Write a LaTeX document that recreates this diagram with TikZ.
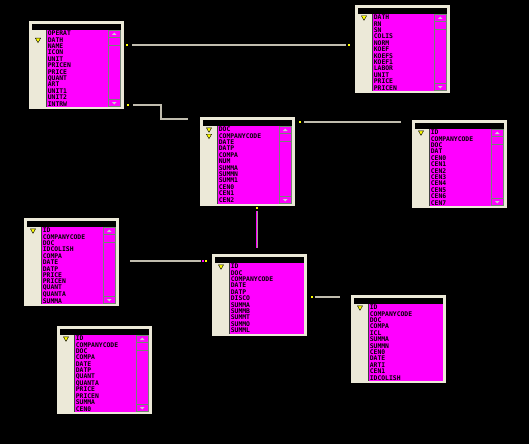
\documentclass[tikz,border=0pt]{standalone}
\usepackage{fontspec}
\newfontfamily\fieldfont{DejaVu Sans Mono}
\usepackage{tikz}
\usetikzlibrary{shapes.geometric}
\usetikzlibrary{positioning}

\definecolor{xpbeige}{RGB}{236,233,216}
\definecolor{relgray}{RGB}{192,188,174}
\definecolor{barline}{RGB}{118,132,118}
\definecolor{dbmagenta}{RGB}{255,0,255}
\definecolor{keyyellow}{RGB}{255,255,0}

% 表格: 名称, x, y, 高度, 主键行, 字段, 滚动条
\newcommand{\dbtable}[7]{%
  \begin{scope}[shift={(#2,#3)}]
    \node[tablebox,minimum height=#4pt] (#1) at (0,0) {};
    \fill[black] (3,3) rectangle (92,9);
    \fill[dbmagenta] (17,9) rectangle (92,#4-2);
    \draw[black!75,line width=0.7pt] (17,9) -- (17,#4-2);
    \ifnum#7=1
      \draw[scrollbar] (79,9.5) rectangle (91.5,#4-2.5);
      \draw[scrollbar] (79,16) -- (91.5,16) (79,24) -- (91.5,24) (79,#4-10) -- (91.5,#4-10);
      \fill[black!20] (83,14) -- (87.5,14) -- (85.25,11.5) -- cycle;
      \fill[black!20] (83,#4-7) -- (87.5,#4-7) -- (85.25,#4-4.5) -- cycle;
    \fi
    \foreach \k in {#5} \node[keyicon] (#1-key\k) at (9,{6.4*\k+5.9}) {};
    \foreach \f [count=\i] in {#6} \node[field] (#1-f\i) at (18.5,{6.4*\i+5.9}) {\f};
  \end{scope}}

\begin{document}
\begin{tikzpicture}[x=1pt,y=-1pt,semithick,
    tablebox/.style={rectangle,fill=xpbeige,anchor=north west,minimum width=95pt,inner sep=0pt,outer sep=0pt},
    field/.style={anchor=west,inner sep=0pt,text=black,font=\fieldfont\bfseries\fontsize{6.4}{6.4}\selectfont},
    keyicon/.style={regular polygon,regular polygon sides=3,shape border rotate=180,fill=keyyellow,draw=black,line width=0.4pt,minimum size=6pt,inner sep=0pt},
    scrollbar/.style={draw=barline,line width=0.8pt},
    fkmark/.style={rectangle,fill=keyyellow,minimum size=2pt,inner sep=0pt},
    rel/.style={draw=relgray,line width=1.6pt}]
    \tikzstyle{relsel}=[draw=dbmagenta,double=relgray!85!black,double distance=1pt,line width=0.7pt]

    % 背景
    \useasboundingbox (0,0) rectangle (529,444);
    \fill[black] (0,0) rectangle (529,444);

    % 定义表格
    \dbtable{price}{29}{21}{88}{2}{OPERAT,DATH,NAME,ICON,UNIT,PRICEN,PRICE,QUANT,ART,UNIT1,UNIT2,INTRW}{1}
    \dbtable{norm}{355}{5}{88}{1}{DATH,RN,SN,COLIS,NORM,KOEF,KOEFS,KOEF1,LABOR,UNIT,PRICE,PRICEN}{1}
    \dbtable{doc}{200}{117}{89}{1,2}{DOC,COMPANYCODE,DATE,DATP,COMPA,NUM,SUMMA,SUMMN,SUMM1,CEN0,CEN1,CEN2}{1}
    \dbtable{cen}{412}{120}{88}{1}{ID,COMPANYCODE,DOC,DAT,CEN0,CEN1,CEN2,CEN3,CEN4,CEN5,CEN6,CEN7}{1}
    \dbtable{line}{24}{218}{88}{1}{ID,COMPANYCODE,DOC,IDCOLISH,COMPA,DATE,DATP,PRICE,PRICEN,QUANT,QUANTA,SUMMA}{1}
    \dbtable{pay}{212}{254}{82}{1}{ID,DOC,COMPANYCODE,DATE,DATP,DISCO,SUMMA,SUMMB,SUMMT,SUMMO,SUMML}{0}
    \dbtable{calc}{351}{295}{88}{1}{ID,COMPANYCODE,DOC,COMPA,ICL,SUMMA,SUMMN,CEN0,DATE,ARTI,CEN1,IDCOLISH}{0}
    \dbtable{rest}{57}{326}{88}{1}{ID,COMPANYCODE,DOC,COMPA,DATE,DATP,QUANT,QUANTA,PRICE,PRICEN,SUMMA,CEN0}{1}

    % 关系端点
    \node[fkmark] (m1a) at (127,45) {};
    \node[fkmark] (m1b) at (349,45) {};
    \node[fkmark] (m2a) at (128,105) {};
    \coordinate (c2) at (188,119);
    \node[fkmark] (m3a) at (300,122) {};
    \coordinate (c3) at (401,122);
    \node[fkmark] (m4a) at (257,208) {};
    \coordinate (c4) at (257,248);
    \coordinate (c5) at (130,261);
    \node[fkmark,fill=dbmagenta] (m5a) at (203,261) {};
    \node[fkmark] (m5b) at (206,261) {};
    \node[fkmark] (m6a) at (312,297) {};
    \coordinate (c6) at (340,297);

    % 定义路径
    \draw[rel,shorten <=4pt,shorten >=2pt] (m1a) -- (m1b);
    \draw[rel,shorten <=4pt] (m2a) -- ++(33,0) |- (c2);
    \draw[rel,shorten <=3pt] (m3a) -- (c3);
    \draw[relsel,shorten <=2pt] (m4a) -- (c4);
    \draw[rel,shorten >=1pt] (c5) -- (m5a);
    \draw[rel,shorten <=2pt] (m6a) -- (c6);
\end{tikzpicture}
\end{document}
